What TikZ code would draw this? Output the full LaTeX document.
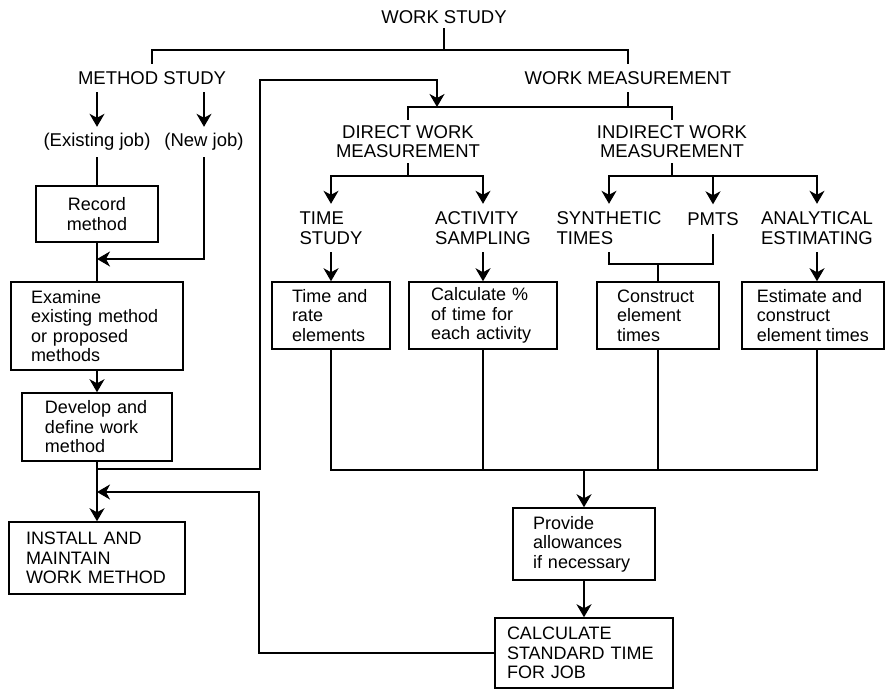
\documentclass[tikz,border=0pt]{standalone}
\usepackage{fontspec}
\setmainfont{Liberation Sans}
\usetikzlibrary{arrows.meta}
\newcommand\lbfont{\fontsize{18.5}{19.5}\selectfont}
\newcommand\bxfont{\fontsize{18}{19.5}\selectfont}
\tikzset{
  lbl/.style={inner sep=0pt, align=center, font=\lbfont},
  lblL/.style={lbl, align=left},
  box/.style={draw, line width=1.5pt, inner ysep=0pt, align=left, font=\bxfont},
  arr/.style={-{Stealth[length=13pt,width=15pt,inset=4pt]}},
  conn/.style={line width=1.5pt},
}
\begin{document}
\begin{tikzpicture}[x=1pt,y=-1pt]
\fill[white] (0,0) rectangle (887,690);
\useasboundingbox (0,0) rectangle (887,690);

% headings
\node[lbl, minimum height=22pt] (ws) at (444,17) {WORK STUDY};
\node[lbl, minimum height=28pt] (ms) at (152,78) {METHOD STUDY};
\node[lbl, minimum height=28pt] (wm) at (628,78) {WORK MEASUREMENT};

% method study column
\node[lbl, minimum height=30pt] (ex) at (97,142) {(Existing job)};
\node[lbl, minimum height=30pt] (nj) at (204,142) {(New job)};
\node[box, align=center, inner xsep=0pt, minimum width=122pt, minimum height=56pt] (rec) at (97,214) {Record\\method};
\node[box, inner xsep=20pt, text width=132pt, minimum height=88pt] (exam) at (97,326) {Examine\\existing method\\or proposed\\methods};
\node[box, inner xsep=23pt, text width=104pt, minimum height=68pt] (dev) at (97,427) {Develop and\\define work\\method};
\node[box, inner xsep=17pt, text width=142pt, minimum height=72pt] (inst) at (97,558) {INSTALL AND\\MAINTAIN\\WORK METHOD};

% work measurement branches
\node[lbl, minimum height=43pt] (dwm) at (408,141.5) {DIRECT WORK\\MEASUREMENT};
\node[lbl, minimum height=43pt] (idwm) at (672,141.5) {INDIRECT WORK\\MEASUREMENT};
\node[lblL, minimum height=48pt] (ts) at (331,228) {TIME\\STUDY};
\node[lblL, minimum height=48pt] (as) at (483,228) {ACTIVITY\\SAMPLING};
\node[lblL, minimum height=48pt] (st) at (609,228) {SYNTHETIC\\TIMES};
\node[lbl, minimum height=29pt] (pm) at (713,219) {PMTS};
\node[lblL, minimum height=48pt] (ae) at (817,228) {ANALYTICAL\\ESTIMATING};

% element boxes
\node[box, inner xsep=20pt, text width=78pt, minimum height=67pt] (tr) at (331,315.5) {Time and\\rate\\elements};
\node[box, inner xsep=22pt, text width=104pt, minimum height=67pt] (ca) at (483,315.5) {Calculate \%\\of time for\\each activity};
\node[box, inner xsep=20pt, text width=82pt, minimum height=67pt] (ce) at (658,315.5) {Construct\\element\\times};
\node[box, inner xsep=0pt, minimum width=142pt, minimum height=67pt] (ee) at (813,315.5) {Estimate and\\construct\\element times};

% final steps
\node[box, inner xsep=20pt, text width=102pt, minimum height=72pt] (pa) at (584,544) {Provide\\allowances\\if necessary};
\node[box, inner xsep=12pt, text width=154pt, minimum height=70pt] (csj) at (584,653) {CALCULATE\\STANDARD TIME\\FOR JOB};

% junction points
\coordinate (wsbar) at (444,50);
\coordinate (wmbar) at (628,107);
\coordinate (dbar) at (408,176);
\coordinate (ibar) at (672,176);
\coordinate (sbar) at (658,264);
\coordinate (bbar) at (584,470);
\coordinate (joinA) at (97,259);
\coordinate (loopA) at (260,469);
\coordinate (loopB) at (260,80);
\coordinate (loopC) at (437,107);
\coordinate (fbA) at (259,492);

\begin{scope}[conn]
% top split
\draw (ws.south) -- (wsbar);
\draw (ms.north) |- (wsbar) -| (wm.north);
% method study
\draw[arr] (ms.south -| ex) -- (ex.north);
\draw[arr] (ms.south -| nj) -- (nj.north);
\draw (ex.south) -- (rec.north);
\draw (rec.south) -- (exam.north);
\draw[arr] (nj.south) |- (joinA);
\draw[arr] (exam.south) -- (dev.north);
\draw[arr] (dev.south) -- (inst.north);
\draw[arr] (dev.south |- loopA) -- (loopA) -- (loopB) -| (loopC);
% work measurement split
\draw (wm.south) -- (wmbar);
\draw (dwm.north) |- (wmbar) -| (idwm.north);
\draw (dwm.south) -- (dbar);
\draw[arr] (dbar) -| (ts.north);
\draw[arr] (dbar) -| (as.north);
\draw (idwm.south) -- (ibar);
\draw[arr] (ibar) -| (st.north);
\draw[arr] (ibar) -| (pm.north);
\draw[arr] (ibar) -| (ae.north);
% techniques to element boxes
\draw[arr] (ts.south) -- (tr.north);
\draw[arr] (as.south) -- (ca.north);
\draw (st.south) |- (sbar) -| (pm.south);
\draw (sbar) -- (ce.north);
\draw[arr] (ae.south) -- (ae.south |- ee.north);
% collect element times
\draw (tr.south) |- (bbar) -| (ae.south |- ee.south);
\draw (ca.south) -- (ca.south |- bbar);
\draw (ce.south) -- (ce.south |- bbar);
\draw[arr] (bbar) -- (pa.north);
\draw[arr] (pa.south) -- (csj.north);
% feedback to installation
\draw[arr] (csj.west) -| (fbA) -- (dev.south |- fbA);
\end{scope}
\end{tikzpicture}
\end{document}
